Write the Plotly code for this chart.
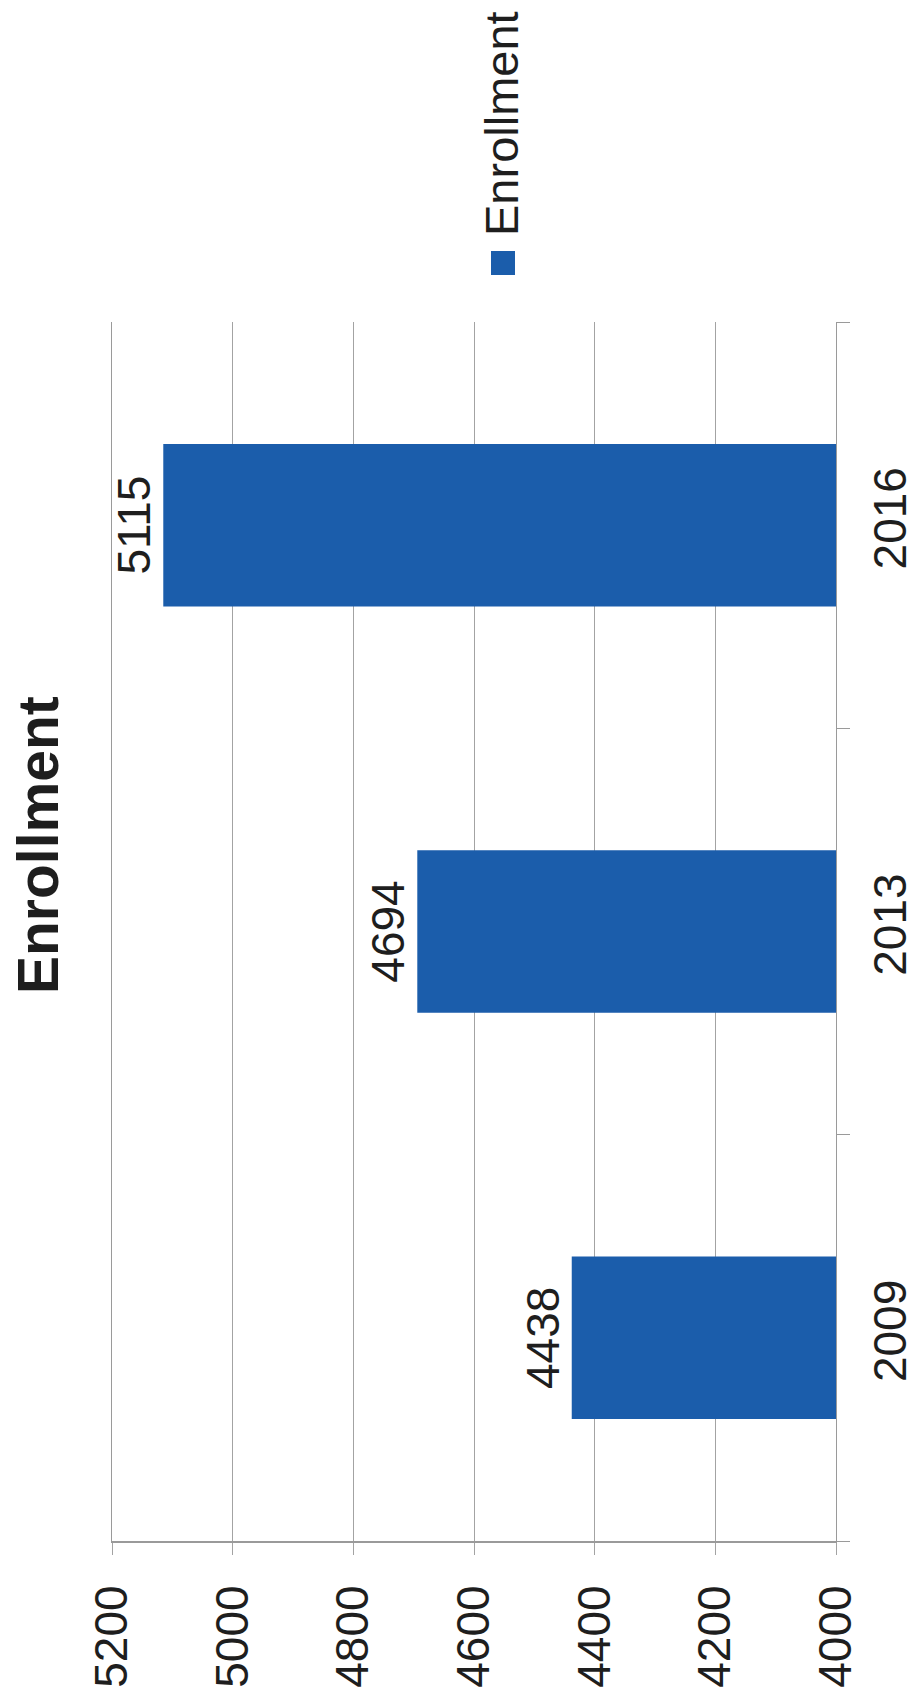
import plotly.graph_objects as go

# Enrollment by year
years = ["2009", "2013", "2016"]
enrollment = [4438, 4694, 5115]
value_ticks = [4000, 4200, 4400, 4600, 4800, 5000, 5200]

FONT = "Liberation Sans, Arial, sans-serif"
BAR_BLUE = "#1b5dab"
TEXT = "#1e1e1e"
GRID = "#a3a3a3"

W, H = 917, 1702
L, R, T, B = 112, 81, 322, 161

fig = go.Figure()
fig.add_trace(go.Bar(
    y=years,
    x=enrollment,
    orientation="h",
    marker=dict(color=BAR_BLUE, line=dict(width=0)),
    text=[str(v) for v in enrollment],
    textposition="outside",
    textangle=-90,
    textfont=dict(family=FONT, size=46, color=TEXT),
    cliponaxis=False,
    name="Enrollment",
    showlegend=False,
))

fig.update_layout(
    width=W,
    height=H,
    margin=dict(l=L, r=R, t=T, b=B, pad=0, autoexpand=False),
    paper_bgcolor="white",
    plot_bgcolor="white",
    bargap=0.6,
    font=dict(family=FONT, color=TEXT),
    xaxis=dict(
        range=[5200, 4000],
        tickvals=value_ticks,
        ticktext=[str(v) for v in value_ticks],
        tickangle=-90,
        tickfont=dict(family=FONT, size=46, color=TEXT),
        showgrid=True,
        gridcolor=GRID,
        gridwidth=1,
        zeroline=False,
        showline=True,
        linecolor="#9a9a9a",
        linewidth=2,
        ticks="outside",
        ticklen=12,
        tickcolor=GRID,
        ticklabelstandoff=12,
        automargin=False,
    ),
    yaxis=dict(
        type="category",
        categoryorder="array",
        categoryarray=years,
        side="right",
        tickangle=-90,
        tickfont=dict(family=FONT, size=46, color=TEXT),
        showgrid=False,
        zeroline=False,
        showline=True,
        mirror=True,
        linecolor="#9a9a9a",
        linewidth=1,
        ticks="outside",
        ticklen=13,
        tickcolor="#9a9a9a",
        tickson="boundaries",
        ticklabelstandoff=14,
        automargin=False,
    ),
)

plot_w = W - L - R
plot_h = H - T - B

def px_to_paper(px, py):
    return (px - L) / plot_w, (H - B - py) / plot_h

# Chart title, drawn sideways along the left edge
tx, ty = px_to_paper(38, 845)
fig.add_annotation(
    text="<b>Enrollment</b>", x=tx, y=ty, xref="paper", yref="paper",
    xanchor="center", yanchor="middle", showarrow=False, textangle=-90,
    font=dict(family=FONT, size=57, color=TEXT),
)

# Legend: swatch plus series name, also sideways
lx, ly = px_to_paper(501, 124)
fig.add_annotation(
    text="Enrollment", x=lx, y=ly, xref="paper", yref="paper",
    xanchor="center", yanchor="middle", showarrow=False, textangle=-90,
    font=dict(family=FONT, size=47, color=TEXT),
)
sx0, sy0 = px_to_paper(491, 275)
sx1, sy1 = px_to_paper(515, 251)
fig.add_shape(
    type="rect", xref="paper", yref="paper",
    x0=sx0, x1=sx1, y0=sy0, y1=sy1,
    fillcolor=BAR_BLUE, line=dict(width=0),
)

fig.write_html("out.html")
